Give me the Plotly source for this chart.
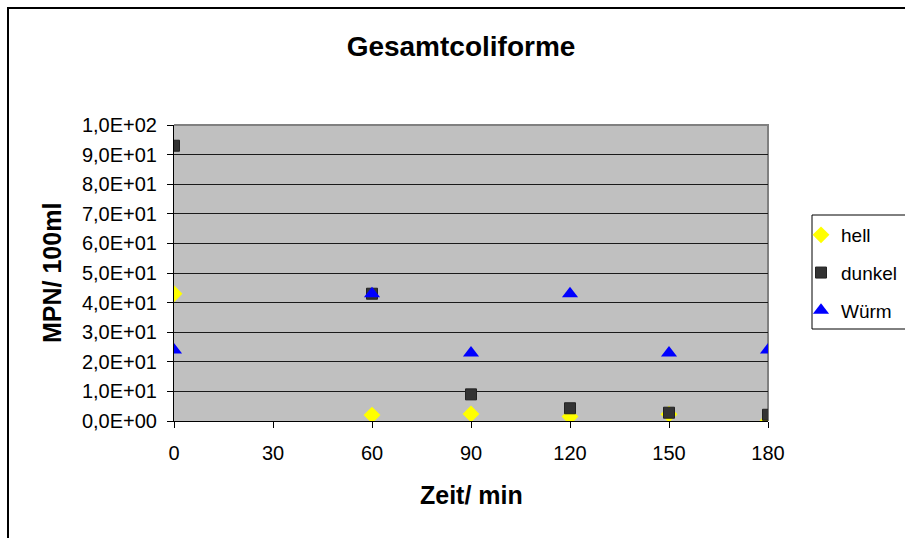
import plotly.graph_objects as go

# Sampling times (min) and MPN per 100 ml for each water sample
zeit = [0, 60, 90, 120, 150, 180]
hell = [43, 2.0, 2.4, 1.5, 2.3, 0.1]
dunkel = [93, 43, 9.0, 4.3, 2.8, 2.1]
wuerm = [24, 43, 23, 43, 23, 24]

x_ticks = [0, 30, 60, 90, 120, 150, 180]
y_ticks = [0, 10, 20, 30, 40, 50, 60, 70, 80, 90, 100]
y_ticktext = ["0,0E+00", "1,0E+01", "2,0E+01", "3,0E+01", "4,0E+01", "5,0E+01",
              "6,0E+01", "7,0E+01", "8,0E+01", "9,0E+01", "1,0E+02"]

W, H = 905, 538
L, R, T, B = 174, 768, 125, 421
FONT = "Liberation Sans, Arial, sans-serif"


def px(xp):
    return (xp - L) / (R - L)


def py(yp):
    return (B - yp) / (B - T)


fig = go.Figure()
fig.add_trace(go.Scatter(
    x=zeit, y=hell, mode="markers", name="hell", legendgroup="a",
    marker=dict(symbol="diamond", size=13, color="#FFFF00", line=dict(width=0)),
))
fig.add_trace(go.Scatter(
    x=zeit, y=dunkel, mode="markers", name="dunkel", legendgroup="b",
    marker=dict(symbol="square", size=11, color="#333333", line=dict(width=1, color="#222222")),
))
fig.add_trace(go.Scatter(
    x=zeit, y=wuerm, mode="markers", name="Würm", legendgroup="c",
    marker=dict(symbol="triangle-up", size=14, color="#0000FF", line=dict(width=0)),
))

fig.update_layout(
    width=W, height=H,
    margin=dict(l=L, r=W - R, t=T, b=H - B, pad=0, autoexpand=False),
    paper_bgcolor="white",
    plot_bgcolor="#C0C0C0",
    font=dict(family=FONT, color="black"),
    title=dict(text="<b>Gesamtcoliforme</b>", x=461 / W, xanchor="center",
               y=1 - 46 / H, yanchor="middle", yref="container",
               font=dict(size=28, family=FONT, color="black")),
    showlegend=True,
    legend=dict(
        x=px(801), y=py(216), xanchor="left", yanchor="top",
        bgcolor="rgba(0,0,0,0)", borderwidth=0,
        font=dict(size=19, family=FONT, color="black"),
        traceorder="grouped", tracegroupgap=10,
        itemwidth=30,
    ),
    xaxis=dict(
        range=[0, 180], tickvals=x_ticks, showgrid=False, zeroline=False,
        showline=True, linecolor="black", linewidth=1,
        ticks="outside", ticklen=6, tickcolor="black",
        tickfont=dict(size=20, family=FONT, color="black"),
        ticklabelstandoff=8,
    ),
    yaxis=dict(
        range=[0, 100], tickvals=y_ticks, ticktext=y_ticktext,
        showgrid=True, gridcolor="#1a1a1a", gridwidth=1, zeroline=False,
        showline=True, linecolor="black", linewidth=1,
        ticks="outside", ticklen=6, tickcolor="black",
        tickfont=dict(size=20, family=FONT, color="black"),
        ticklabelstandoff=6,
    ),
    annotations=[
        dict(text="<b>MPN/ 100ml</b>", x=px(52), y=py(273), xref="paper", yref="paper",
             textangle=-90, showarrow=False, xanchor="center", yanchor="middle",
             font=dict(size=25, family=FONT, color="black")),
        dict(text="<b>Zeit/ min</b>", x=px(471), y=py(495), xref="paper", yref="paper",
             showarrow=False, xanchor="center", yanchor="middle",
             font=dict(size=25, family=FONT, color="black")),
    ],
    shapes=[
        # gray plot-area border on top and right
        dict(type="path", xref="paper", yref="paper", layer="between",
             path="M 0 1 L 1 1 L 1 0",
             line=dict(color="#808080", width=2)),
        # chart-area frame
        dict(type="path", xref="paper", yref="paper", layer="above",
             path=f"M {px(8)} {py(560)} L {px(8)} {py(8)} L {px(920)} {py(8)}",
             line=dict(color="black", width=2)),
        # legend box
        dict(type="rect", xref="paper", yref="paper", layer="above",
             x0=px(812), x1=px(915), y0=py(329), y1=py(215),
             line=dict(color="black", width=1)),
    ],
)

fig.write_html("out.html")
